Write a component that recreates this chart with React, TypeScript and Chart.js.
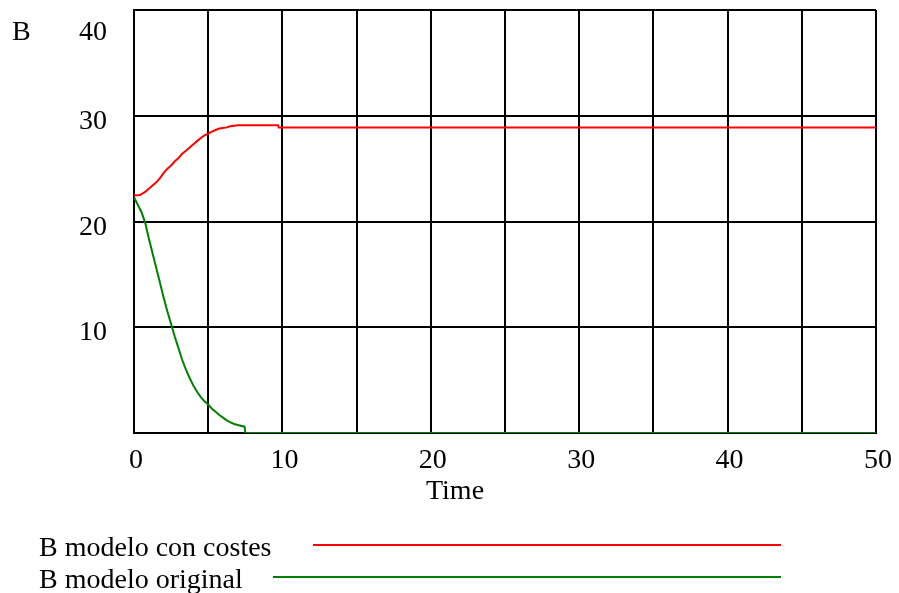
import React, { useEffect, useRef } from "react";
import { Chart, registerables } from "chart.js";

Chart.register(...registerables);

const redTimes = [0, 0.4, 0.75, 1, 1.25, 1.5, 1.75, 2, 2.25, 2.5, 2.75, 3, 3.25, 3.5, 3.75, 4, 4.25, 4.5, 4.75, 5, 5.25, 5.5, 5.75, 6, 6.25, 6.5, 6.75, 7, 9.7, 9.75, 50];
const redValues = [22.45, 22.5, 22.8, 23.1, 23.4, 23.7, 24.1, 24.6, 25.0, 25.3, 25.7, 26.0, 26.4, 26.7, 27.0, 27.3, 27.6, 27.9, 28.15, 28.3, 28.5, 28.65, 28.8, 28.85, 28.9, 29.0, 29.05, 29.1, 29.1, 28.9, 28.9];

const greenTimes = [0, 0.25, 0.5, 0.75, 1, 1.25, 1.5, 1.75, 2, 2.25, 2.5, 2.75, 3, 3.25, 3.5, 3.75, 4, 4.25, 4.5, 4.75, 5, 5.25, 5.5, 5.75, 6, 6.25, 6.5, 6.75, 7, 7.45, 7.5, 50];
const greenValues = [22.3, 21.6, 20.9, 19.9, 18.4, 17.0, 15.6, 14.2, 12.8, 11.5, 10.3, 9.1, 8.0, 6.9, 6.0, 5.2, 4.5, 3.9, 3.4, 3.0, 2.7, 2.3, 2.0, 1.7, 1.45, 1.2, 1.0, 0.85, 0.75, 0.6, 0, 0];

const xTickLabels = [0, 10, 20, 30, 40, 50];
const yTickLabels = [10, 20, 30, 40];
const seriesNames = ["B modelo con costes", "B modelo original"];
const seriesColors = ["#ff0000", "#008000"];
const yAxisName = "B";
const xAxisName = "Time";

const FONT = '28px "Liberation Serif"';

const textPlugin = {
  id: "textPlugin",
  afterDraw(chart: any) {
    const ctx = chart.ctx;
    const xs = chart.scales.x;
    const ys = chart.scales.y;
    ctx.save();
    ctx.fillStyle = "#000";
    ctx.font = FONT;
    ctx.textBaseline = "alphabetic";
    // y tick labels
    ctx.textAlign = "right";
    yTickLabels.forEach((v) => {
      const py = ys.getPixelForValue(v);
      ctx.fillText(String(v), 107, Math.max(py + 13, 40));
    });
    // y axis name
    ctx.textAlign = "left";
    ctx.fillText(yAxisName, 12, 40);
    // x tick labels
    ctx.textAlign = "center";
    xTickLabels.forEach((v) => {
      const px = xs.getPixelForValue(v);
      ctx.fillText(String(v), px + 2, 468);
    });
    ctx.fillText(xAxisName, 455, 499);
    // legend
    ctx.textAlign = "left";
    const legendY = [545, 577];
    const lineStart = [313, 273];
    seriesNames.forEach((name, i) => {
      ctx.fillStyle = "#000";
      ctx.fillText(name, 39, legendY[i] + 11);
      ctx.strokeStyle = seriesColors[i];
      ctx.lineWidth = 2;
      ctx.beginPath();
      ctx.moveTo(lineStart[i], legendY[i]);
      ctx.lineTo(781, legendY[i]);
      ctx.stroke();
    });
    ctx.restore();
  },
};

export default function App() {
  const ref = useRef<HTMLCanvasElement | null>(null);
  useEffect(() => {
    if (!ref.current) return;
    const chart = new Chart(ref.current, {
      type: "line",
      data: {
        datasets: [
          {
            label: seriesNames[0],
            data: redTimes.map((t, i) => ({ x: t, y: redValues[i] })),
            borderColor: seriesColors[0],
            borderWidth: 2,
            pointRadius: 0,
            tension: 0,
            fill: false,
          },
          {
            label: seriesNames[1],
            data: greenTimes.map((t, i) => ({ x: t, y: greenValues[i] })),
            borderColor: seriesColors[1],
            borderWidth: 2,
            pointRadius: 0,
            tension: 0,
            fill: false,
          },
        ],
      },
      options: {
        responsive: false,
        animation: false,
        layout: { padding: { left: 134, right: 23, top: 10, bottom: 160 } },
        plugins: { legend: { display: false }, tooltip: { enabled: false } },
        scales: {
          x: {
            type: "linear",
            min: 0,
            max: 50,
            ticks: { display: false, stepSize: 5 },
            grid: { color: "#000", lineWidth: 2, drawTicks: false },
            border: { display: true, color: "#000", width: 2 },
          },
          y: {
            type: "linear",
            min: 0,
            max: 40,
            ticks: { display: false, stepSize: 10 },
            grid: { color: "#000", lineWidth: 2, drawTicks: false },
            border: { display: true, color: "#000", width: 2 },
          },
        },
      },
      plugins: [textPlugin],
    });
    return () => chart.destroy();
  }, []);
  return (
    <div style={{ position: "fixed", left: 0, top: 0, width: 899, height: 593, background: "#fff" }}>
      <canvas ref={ref} width={899} height={593} />
    </div>
  );
}
